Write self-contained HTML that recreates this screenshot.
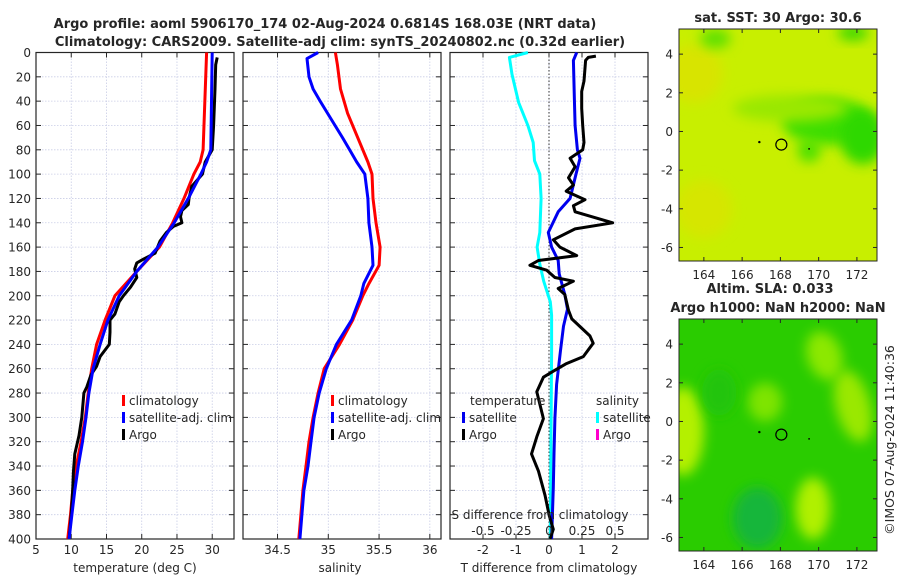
<!DOCTYPE html>
<html><head><meta charset="utf-8">
<style>
html,body{margin:0;padding:0;background:#fff;}
svg{display:block;font-family:"DejaVu Sans","Liberation Sans",sans-serif;}
text{fill:#262626;}
</style></head>
<body>
<svg id="chart" width="900" height="580" viewBox="0 0 900 580" xmlns="http://www.w3.org/2000/svg">
<defs>
<filter id="blur2" x="-50%" y="-50%" width="200%" height="200%"><feGaussianBlur stdDeviation="6"/></filter>
<clipPath id="clipM1"><rect x="679" y="29" width="198" height="232"/></clipPath>
<clipPath id="clipM2"><rect x="679" y="319" width="198" height="232"/></clipPath>
</defs>
<text x="325" y="28" text-anchor="middle" font-size="13" font-weight="bold" fill="#000">Argo profile: aoml 5906170_174 02-Aug-2024 0.6814S 168.03E (NRT data)</text>
<text x="340" y="46" text-anchor="middle" font-size="13" font-weight="bold" fill="#000">Climatology: CARS2009. Satellite-adj clim: synTS_20240802.nc (0.32d earlier)</text>
<g id="plots"></g>
<text x="778" y="22" text-anchor="middle" font-size="13" font-weight="bold" fill="#000">sat. SST: 30 Argo: 30.6</text>
<text x="770" y="293" text-anchor="middle" font-size="13" font-weight="bold" fill="#000">Altim. SLA: 0.033</text>
<text x="778" y="312" text-anchor="middle" font-size="13" font-weight="bold" fill="#000">Argo h1000: NaN h2000: NaN</text>
<text transform="translate(894,440) rotate(-90)" text-anchor="middle" font-size="12.5">©IMOS 07-Aug-2024 11:40:36</text>
</svg>
<script>
// ---- data ----
const tClimDepth = [0,80,90,100,120,140,160,180,200,220,240,260,280,300,320,340,360,380,400];
const tClim = [29.2,28.7,28.3,27.4,26.0,24.4,22.5,19.3,16.2,14.8,13.6,12.9,12.4,12.0,11.4,10.7,10.2,9.9,9.5];
const tSat = [30.0,29.8,29.2,28.4,26.6,24.6,22.3,19.3,16.8,15.2,14.1,13.1,12.5,12.1,11.6,11.0,10.5,10.1,9.7];
const argoDepth = [4,10,30,60,80,90,100,110,120,125,130,135,140,143,148,155,165,170,173,178,185,193,200,205,215,220,230,240,250,258,265,275,280,300,315,330,345,360,380,400];
const argoT = [30.7,30.5,30.4,30.2,30.0,29.0,28.6,27.1,26.7,26.6,25.7,25.5,25.7,24.5,23.5,22.6,21.9,20.2,19.3,19.0,19.3,18.4,17.4,16.8,16.2,15.5,15.5,15.4,14.1,13.6,12.8,12.2,11.8,11.5,11.1,10.5,10.3,10.2,10.0,9.7];
const sClimDepth = [0,10,30,50,70,90,100,120,140,160,175,190,200,220,240,260,280,300,320,340,360,380,400];
const sClim = [35.07,35.09,35.12,35.19,35.29,35.39,35.43,35.44,35.47,35.51,35.50,35.40,35.34,35.24,35.11,34.96,34.90,34.85,34.81,34.78,34.75,34.73,34.71];
const sSatDepth = [0,5,20,30,40,55,70,80,90,100,120,140,160,175,190,200,220,240,260,280,300,320,340,360,380,400];
const sSat = [34.90,34.79,34.81,34.85,34.92,35.03,35.14,35.21,35.28,35.36,35.39,35.40,35.43,35.44,35.35,35.32,35.23,35.08,34.98,34.91,34.86,34.83,34.80,34.76,34.74,34.72];
const dTSatDepth = [0,6.5,39,60,80,87,103,120,131,148,160,171,182,199,211,225,245,273,301,330,358,400];
const dTSat = [0.84,0.74,0.77,0.79,0.86,0.94,0.79,0.64,0.28,-0.02,0.08,0.28,0.31,0.48,0.56,0.44,0.35,0.23,0.18,0.15,0.13,0.08];
const dTArgoDepth = [3,4,6.5,23.5,32,46,60,74,80,87,94,103,109,114,121,126,131,140,145,154,160,167,171,175,179,185,188,194,199,212,219,233,239,250,256,262,267,279,301,316,330,344,364,381,392,400];
const dTArgo = [1.42,1.19,1.11,1.06,0.99,0.99,1.02,1.06,1.02,0.64,0.79,0.59,0.74,0.52,1.09,0.74,0.79,1.93,0.79,0.13,0.33,0.84,-0.32,-0.58,-0.07,0.18,0.74,0.28,0.48,0.59,0.69,1.24,1.34,1.04,0.51,0.13,-0.17,-0.37,-0.17,-0.37,-0.53,-0.32,-0.12,0.01,0.13,0.03];
const dSSatDepth = [0,4,18,41,60,74,89,100,120,148,160,174,188,205,216,245,400];
const dSSat = [-0.16,-0.30,-0.28,-0.23,-0.16,-0.12,-0.11,-0.07,-0.06,-0.07,-0.09,-0.07,-0.04,0.01,0.02,0.02,0.01];
const depthTicks = [0,20,40,60,80,100,120,140,160,180,200,220,240,260,280,300,320,340,360,380,400];
const tempTicks = [5,10,15,20,25,30];
const salTicks = [34.5,35,35.5,36];
const dTTicks = [-2,-1,0,1,2];
const dSTicks = [-0.5,-0.25,0,0.25,0.5];
const dSTickLabels = ["-0.5","-0.25","0","0.25","0.5"];
const lonTicks = [164,166,168,170,172];
const latTicks = [4,2,0,-2,-4,-6];
const argoLon = 168.05, argoLat = -0.68;

const NS="http://www.w3.org/2000/svg";
const plots=document.getElementById('plots');
function mk(tag,attrs,parent){const e=document.createElementNS(NS,tag);for(const k in attrs)e.setAttribute(k,attrs[k]);(parent||plots).appendChild(e);return e;}

const Y0=52.5, Y1=539;
const yD = d => Y0 + d/400*(Y1-Y0);
function lin(d0,d1,p0,p1){return v=>p0+(v-d0)/(d1-d0)*(p1-p0);}
const FS=12;

const panels=[
 {name:'temperature-panel',x0:36,x1:234,xs:lin(5,33.09,36,234),ticks:tempTicks,labels:tempTicks.map(String),xlabel:'temperature (deg C)',xlx:135,ylabels:true},
 {name:'salinity-panel',x0:243,x1:441,xs:lin(34.16,36.11,243,441),ticks:salTicks,labels:salTicks.map(String),xlabel:'salinity',xlx:340,ylabels:false},
 {name:'difference-panel',x0:450,x1:648,xs:lin(-3,3,450,648),ticks:dTTicks,labels:dTTicks.map(String),xlabel:'T difference from climatology',xlx:549,ylabels:false}
];

panels.forEach(p=>{
 const g=mk('g',{});
 
 
 depthTicks.forEach(d=>{
  const l=mk('line',{x1:p.x0,x2:p.x1,y1:yD(d),y2:yD(d),stroke:'#c9cde6','stroke-width':0.8,'stroke-dasharray':'1.5,1.5'},g);
  
  
  mk('line',{x1:p.x0,x2:p.x0+5,y1:yD(d),y2:yD(d),stroke:'#262626','stroke-width':1},g);
  mk('line',{x1:p.x1-5,x2:p.x1,y1:yD(d),y2:yD(d),stroke:'#262626','stroke-width':1},g);
  if(p.ylabels){const t=mk('text',{x:31,y:yD(d)+4.5,'text-anchor':'end','font-size':FS},g);t.textContent=d;
   
   }
 });
 p.ticks.forEach((v,i)=>{
  const x=p.xs(v);
  mk('line',{x1:x,x2:x,y1:Y0,y2:Y1,stroke:'#c9cde6','stroke-width':0.8,'stroke-dasharray':'1.5,1.5'},g);
  mk('line',{x1:x,x2:x,y1:Y1,y2:Y1-5,stroke:'#262626','stroke-width':1},g);
  mk('line',{x1:x,x2:x,y1:Y0,y2:Y0+5,stroke:'#262626','stroke-width':1},g);
  const t=mk('text',{x:x,y:554,'text-anchor':'middle','font-size':FS},g);t.textContent=p.labels[i];
  
  
 });
 const b=mk('rect',{x:p.x0,y:Y0,width:p.x1-p.x0,height:Y1-Y0,fill:'none',stroke:'#262626','stroke-width':1.2},g);
 
 
 const xl=mk('text',{x:p.xlx,y:572,'text-anchor':'middle','font-size':FS},g);xl.textContent=p.xlabel;
 
 
});

const zl=mk('line',{x1:panels[2].xs(0),x2:panels[2].xs(0),y1:Y0,y2:Y1,stroke:'#333','stroke-width':1,'stroke-dasharray':'1.5,2'});



function line(xs,depths,vals,color,w,name){
 const pts=vals.map((v,i)=>xs(v).toFixed(1)+','+yD(depths[i]).toFixed(1)).join(' ');
 const l=mk('polyline',{points:pts,fill:'none',stroke:color,'stroke-width':w,'stroke-linejoin':'round'});
 
 
}
const xsT=panels[0].xs, xsS=panels[1].xs, xsD=panels[2].xs;
const xsDS=lin(-0.75,0.75,450,648);
line(xsT,tClimDepth,tClim,'#ff0000',3,'temp-climatology-line');
line(xsT,argoDepth,argoT,'#000000',3,'temp-argo-line');
line(xsT,tClimDepth,tSat,'#0000ff',3,'temp-satellite-line');
line(xsS,sClimDepth,sClim,'#ff0000',3,'sal-climatology-line');
line(xsS,sSatDepth,sSat,'#0000ff',3,'sal-satellite-line');
line(xsDS,dSSatDepth,dSSat,'#00ffff',3,'sdiff-satellite-line');
line(xsD,dTSatDepth,dTSat,'#0000ee',3,'tdiff-satellite-line');
line(xsD,dTArgoDepth,dTArgo,'#000000',3,'tdiff-argo-line');

function legItem(x,y,color,label,name){
 const g=mk('g',{});
 
 
 mk('rect',{x:x,y:y-10,width:3,height:11,fill:color},g);
 const t=mk('text',{x:x+7,y:y,'font-size':FS},g);t.textContent=label;
}
[[122,'climatology','#ff0000'],[122,'satellite-adj. clim','#0000ff'],[122,'Argo','#000']].forEach((a,i)=>legItem(a[0],405+i*17,a[2],a[1],'legend-entry-temp-'+i));
[[331,'climatology','#ff0000'],[331,'satellite-adj. clim','#0000ff'],[331,'Argo','#000']].forEach((a,i)=>legItem(a[0],405+i*17,a[2],a[1],'legend-entry-sal-'+i));
let t=mk('text',{x:470,y:405,'font-size':FS});t.textContent='temperature';


t=mk('text',{x:596,y:405,'font-size':FS});t.textContent='salinity';


legItem(462,422,'#0000ee','satellite','legend-entry-tdiff-satellite');
legItem(462,439,'#000','Argo','legend-entry-tdiff-argo');
legItem(596,422,'#00ffff','satellite','legend-entry-sdiff-satellite');
legItem(596,439,'#ff00cc','Argo','legend-entry-sdiff-argo');
t=mk('text',{x:540,y:519,'text-anchor':'middle','font-size':FS});t.textContent='S difference from climatology';


dSTicks.forEach((v,i)=>{const e=mk('text',{x:xsDS(v),y:535,'text-anchor':'middle','font-size':FS});e.textContent=dSTickLabels[i];
 
 });

const lonS=lin(162.7,173.05,679,877);
function map(y0,name,base,blobs,clip){
 const latS=lin(5.3,-6.7,y0,y0+232);
 const g=mk('g',{});
 
 
 const inner=mk('g',{'clip-path':'url(#'+clip+')'},g);
 mk('rect',{x:679,y:y0,width:198,height:232,fill:base},inner);
 blobs.forEach(b=>{
  const e=mk('ellipse',{cx:lonS(b[0]),cy:latS(b[1]),rx:b[2]*19.1,ry:b[3]*19.3,fill:b[4],filter:'url(#blur2)',transform:'rotate('+(b[5]||0)+' '+lonS(b[0])+' '+latS(b[1])+')'},inner);
  
  
 });
 const c=mk('circle',{cx:lonS(argoLon),cy:latS(argoLat),r:5.5,fill:'none',stroke:'#000','stroke-width':1.2},g);
 
 
 mk('circle',{cx:lonS(166.9),cy:latS(-0.55),r:1.2,fill:'#000'},g);
 mk('circle',{cx:lonS(169.5),cy:latS(-0.9),r:0.9,fill:'#000'},g);
 mk('rect',{x:679,y:y0,width:198,height:232,fill:'none',stroke:'#262626','stroke-width':1},g);
 lonTicks.forEach(v=>{
  mk('line',{x1:lonS(v),x2:lonS(v),y1:y0+232,y2:y0+228,stroke:'#262626'},g);
  mk('line',{x1:lonS(v),x2:lonS(v),y1:y0,y2:y0+4,stroke:'#262626'},g);
  const e=mk('text',{x:lonS(v),y:y0+250,'text-anchor':'middle','font-size':FS},g);e.textContent=v;
  
  
 });
 latTicks.forEach(v=>{
  mk('line',{x1:679,x2:683,y1:latS(v),y2:latS(v),stroke:'#262626'},g);
  mk('line',{x1:873,x2:877,y1:latS(v),y2:latS(v),stroke:'#262626'},g);
  const e=mk('text',{x:673,y:latS(v)+4.5,'text-anchor':'end','font-size':FS},g);e.textContent=v;
  
  
 });
}
map(29,'sst-map','#c8ef00',[
 [163.5,3,1.5,1.5,'#d8e400'],[164,-4,1.5,1.5,'#d6e600'],
 [170.5,0.5,2.4,1.2,'#3ede00'],[172.3,-0.3,1.2,1.4,'#2ed800'],[169.5,-1,0.6,0.6,'#4ee000'],
 [168.5,1.2,3,0.7,'#9ae800'],[164.6,4.8,0.8,0.5,'#5ee000'],[171.8,5.1,0.8,0.4,'#3cd800']
],'clipM1');
map(319,'sla-map','#2acc00',[
 [162.9,-0.5,1.1,2.3,'#b4f000'],[167.2,1,0.9,1.0,'#7ee400'],
 [170.3,3.4,0.9,1.3,'#8ce800',-20],[171.8,0.8,0.9,1.9,'#9ae800',-15],
 [169.7,-4.5,0.9,1.6,'#b0f000'],[166.8,-5,1.3,1.6,'#14b63a'],[164.8,1.5,0.9,1.2,'#20c410']
],'clipM2');
</script>
</body></html>
